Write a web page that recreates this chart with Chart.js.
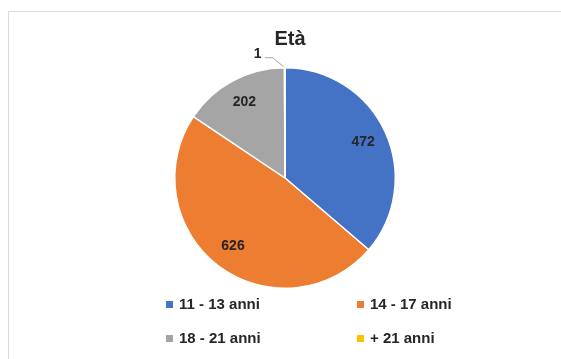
<!DOCTYPE html>
<html>
<head>
<meta charset="utf-8">
<script src="https://cdn.jsdelivr.net/npm/chart.js@4"></script>
<style>
  html, body { margin: 0; padding: 0; background: #fff; }
  #wrap { width: 561px; height: 359px; }
</style>
</head>
<body>
<div id="wrap"><canvas id="myChart" width="561" height="359"></canvas></div>
<script>
// Age groups
const ageLabels = ['11 - 13 anni', '14 - 17 anni', '18 - 21 anni', '+ 21 anni'];
const ageCounts = [472, 626, 202, 1];
const ageColors = ['#4472C4', '#ED7D31', '#A5A5A5', '#FFC000'];
const chartTitle = 'Età';

const fontFamily = '"Liberation Sans", Arial, sans-serif';
const textColor = '#262626';

// Frame, title, value labels and a two-column legend
const decorations = {
  id: 'decorations',
  beforeDraw(chart) {
    const c = chart.ctx;
    c.save();
    c.strokeStyle = '#d9d9d9';
    c.lineWidth = 1;
    c.strokeRect(8.5, 11.5, 600, 400);
    c.restore();
  },
  afterDraw(chart) {
    const c = chart.ctx;
    const meta = chart.getDatasetMeta(0);
    const total = ageCounts.reduce((a, b) => a + b, 0);
    c.save();

    // title
    c.fillStyle = textColor;
    c.font = 'bold 20px ' + fontFamily;
    c.textAlign = 'center';
    c.textBaseline = 'middle';
    c.fillText(chartTitle, 290, 39);

    // value labels
    c.font = 'bold 14px ' + fontFamily;
    meta.data.forEach((arc, i) => {
      const p = arc.getProps(['x', 'y', 'startAngle', 'endAngle', 'outerRadius'], true);
      const mid = (p.startAngle + p.endAngle) / 2;
      if (ageCounts[i] / total < 0.02) {
        // tiny slice: label outside with a leader line
        const ex = p.x + Math.cos(mid) * p.outerRadius;
        const ey = p.y + Math.sin(mid) * p.outerRadius;
        c.strokeStyle = '#a6a6a6';
        c.lineWidth = 1;
        c.beginPath();
        c.moveTo(ex - 1, ey - 1);
        c.lineTo(ex - 12, ey - 10);
        c.lineTo(ex - 20, ey - 10);
        c.stroke();
        c.fillText(String(ageCounts[i]), ex - 27, ey - 14);
      } else {
        const r = p.outerRadius * 0.78;
        c.fillText(String(ageCounts[i]), p.x + Math.cos(mid) * r, p.y + Math.sin(mid) * r);
      }
    });

    // legend
    const cols = [166, 357];
    const rows = [305, 339];
    c.font = 'bold 15px ' + fontFamily;
    c.textAlign = 'left';
    ageLabels.forEach((lab, i) => {
      const x = cols[i % 2];
      const y = rows[Math.floor(i / 2)];
      c.fillStyle = ageColors[i];
      c.fillRect(x, y - 4, 7, 7);
      c.fillStyle = textColor;
      c.fillText(lab, x + 13, y);
    });
    c.restore();
  }
};

new Chart(document.getElementById('myChart'), {
  type: 'pie',
  data: {
    labels: ageLabels,
    datasets: [{
      data: ageCounts,
      backgroundColor: ageColors,
      borderColor: '#fff',
      borderWidth: 1.5
    }]
  },
  options: {
    responsive: false,
    animation: false,
    layout: { padding: { top: 67, bottom: 70, left: 174, right: 165 } },
    plugins: {
      legend: { display: false },
      title: { display: false },
      tooltip: { enabled: false }
    }
  },
  plugins: [decorations]
});
</script>
</body>
</html>
